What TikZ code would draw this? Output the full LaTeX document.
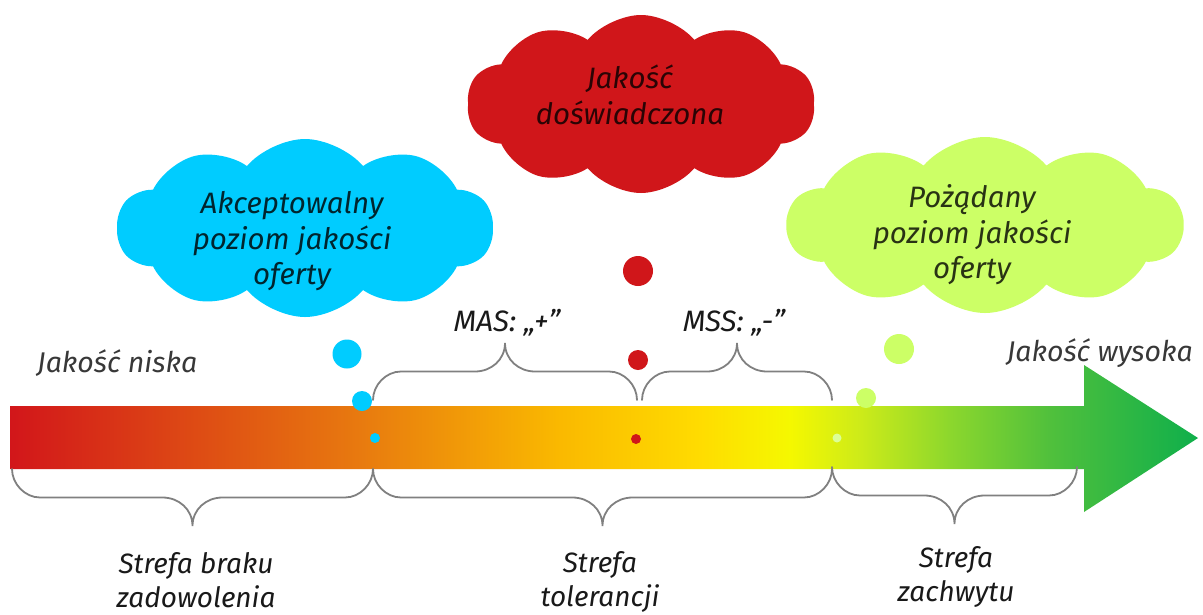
\documentclass[tikz,border=0pt]{standalone}
\usepackage{fontspec}
\setmainfont{Fira Sans}
\newfontfamily\lightit{Fira Sans}
\usetikzlibrary{shapes.symbols}
\definecolor{cyanc}{RGB}{0,204,255}
\definecolor{redc}{RGB}{208,22,26}
\definecolor{greenc}{RGB}{204,255,102}
\definecolor{greenl}{RGB}{220,255,150}
\definecolor{bracec}{RGB}{128,128,128}
\definecolor{g0}{RGB}{210,22,26}
\definecolor{g1}{RGB}{232,122,15}
\definecolor{g2}{RGB}{250,185,0}
\definecolor{g3}{RGB}{255,220,0}
\definecolor{g4}{RGB}{245,248,0}
\definecolor{g5}{RGB}{205,235,25}
\definecolor{g6}{RGB}{140,215,45}
\definecolor{g7}{RGB}{80,192,60}
\definecolor{g8}{RGB}{15,175,75}
\pgfdeclarehorizontalshading{bargrad}{100bp}{color(0bp)=(g0); color(25bp)=(g0); color(39.73bp)=(g1); color(48.15bp)=(g2); color(54.04bp)=(g3); color(57.83bp)=(g4); color(60.77bp)=(g5); color(64.56bp)=(g6); color(68.77bp)=(g7); color(75bp)=(g8); color(100bp)=(g8)}
% brace: x-start, x-end, y of ends, direction (+1 down, -1 up)
\newcommand\mkbrace[4]{%
  \pgfmathsetmacro\bxm{(#1+#2)/2}%
  \pgfmathsetmacro\bya{#3+(#4)*15}%
  \pgfmathsetmacro\byb{#3+(#4)*28.5}%
  \pgfmathsetmacro\byc{#3+(#4)*40}%
  \pgfmathsetmacro\byd{#3+(#4)*57}%
  \pgfmathsetmacro\bxa{#1+13}%
  \pgfmathsetmacro\bxb{#1+28}%
  \pgfmathsetmacro\bxc{\bxm-30}%
  \pgfmathsetmacro\bxd{\bxm-14}%
  \pgfmathsetmacro\bxe{\bxm+14}%
  \pgfmathsetmacro\bxf{\bxm+30}%
  \pgfmathsetmacro\bxg{#2-28}%
  \pgfmathsetmacro\bxh{#2-13}%
  \draw[bracestyle] (#1,#3) .. controls (#1,\bya) and (\bxa,\byb) .. (\bxb,\byb)
    -- (\bxc,\byb) .. controls (\bxd,\byb) and (\bxm,\byc) .. (\bxm,\byd)
    .. controls (\bxm,\byc) and (\bxe,\byb) .. (\bxf,\byb)
    -- (\bxg,\byb) .. controls (\bxh,\byb) and (#2,\bya) .. (#2,#3);%
}
\tikzset{
  bracestyle/.style={draw=bracec, line width=1.8, line cap=round},
  cloudshape/.style={cloud, cloud puffs=10, cloud puff arc=100, cloud ignores aspect, inner sep=0, draw=none},
  cloudtext/.style={font=\lightit\itshape\fontsize{29.5}{35.5}\selectfont, align=center, inner sep=0},
  dot/.style={circle, inner sep=0, draw=none},
  axislbl/.style={font=\lightit\itshape\fontsize{28.5}{30}\selectfont, text=black!78, inner sep=0},
  braclbl/.style={font=\lightit\itshape\fontsize{29.5}{30}\selectfont, text=black!90, inner sep=0},
  zonelbl/.style={font=\lightit\itshape\fontsize{28}{33.5}\selectfont, text=black!90, align=center, inner sep=0},
}
\begin{document}
\begin{tikzpicture}[x=1pt,y=-1pt]
\useasboundingbox (0,0) rectangle (1203,614);
\fill[white] (0,0) rectangle (1203,614);
% clouds
\node[cloudshape, fill=cyanc, minimum width=376, minimum height=178] (cyancloud) at (305,228) {};
\node[cloudshape, fill=redc, minimum width=348, minimum height=178] (redcloud) at (641,104) {};
\node[cloudshape, fill=greenc, minimum width=396, minimum height=176] (greencloud) at (985,225) {};
\node[cloudtext, text=black!82!cyanc] (cyantext) at (292,241.5) {Akceptowalny\\poziom jakości\\oferty};
\node[cloudtext, text=black!80!redc] (redtext) at (630,95) {Jakość\\doświadczona};
\node[cloudtext, text=black!80!greenc] (greentext) at (972,235) {Pożądany\\poziom jakości\\oferty};
% gradient arrow
\shade[shading=bargrad] (10,406) -- (1084,406) -- (1084,365) -- (1198,438) -- (1084,512) -- (1084,469) -- (10,469) -- cycle;
% dots
\node[dot, fill=cyanc, minimum size=29] (c1) at (347,354) {};
\node[dot, fill=cyanc, minimum size=20] (c2) at (362,401) {};
\node[dot, fill=cyanc, minimum size=10] (c3) at (375,438) {};
\node[dot, fill=redc, minimum size=30] (r1) at (638,271) {};
\node[dot, fill=redc, minimum size=20] (r2) at (638,360) {};
\node[dot, fill=redc, minimum size=10] (r3) at (636,439) {};
\node[dot, fill=greenc, minimum size=30] (l1) at (899,349) {};
\node[dot, fill=greenc, minimum size=20] (l2) at (866,398) {};
\node[dot, fill=greenl, minimum size=9] (l3) at (837,438) {};
% braces above
\mkbrace{373}{637}{400}{-1}
\mkbrace{642}{832}{400}{-1}
% braces below
\mkbrace{12}{373}{469}{1}
\mkbrace{373}{832}{469}{1}
\mkbrace{832}{1077}{467}{1}
% labels
\node[axislbl, anchor=base west] (low) at (37,372) {Jakość niska};
\node[axislbl, anchor=base east] (high) at (1193,361) {Jakość wysoka};
\node[braclbl, anchor=base] (mas) at (507,331) {MAS: „+”};
\node[braclbl, anchor=base] (mss) at (734,331) {MSS: „-”};
\node[zonelbl] (zone1) at (196,580) {Strefa braku\\zadowolenia};
\node[zonelbl] (zone2) at (600,582) {Strefa\\tolerancji};
\node[zonelbl] (zone3) at (956,577) {Strefa\\zachwytu};
\end{tikzpicture}
\end{document}
